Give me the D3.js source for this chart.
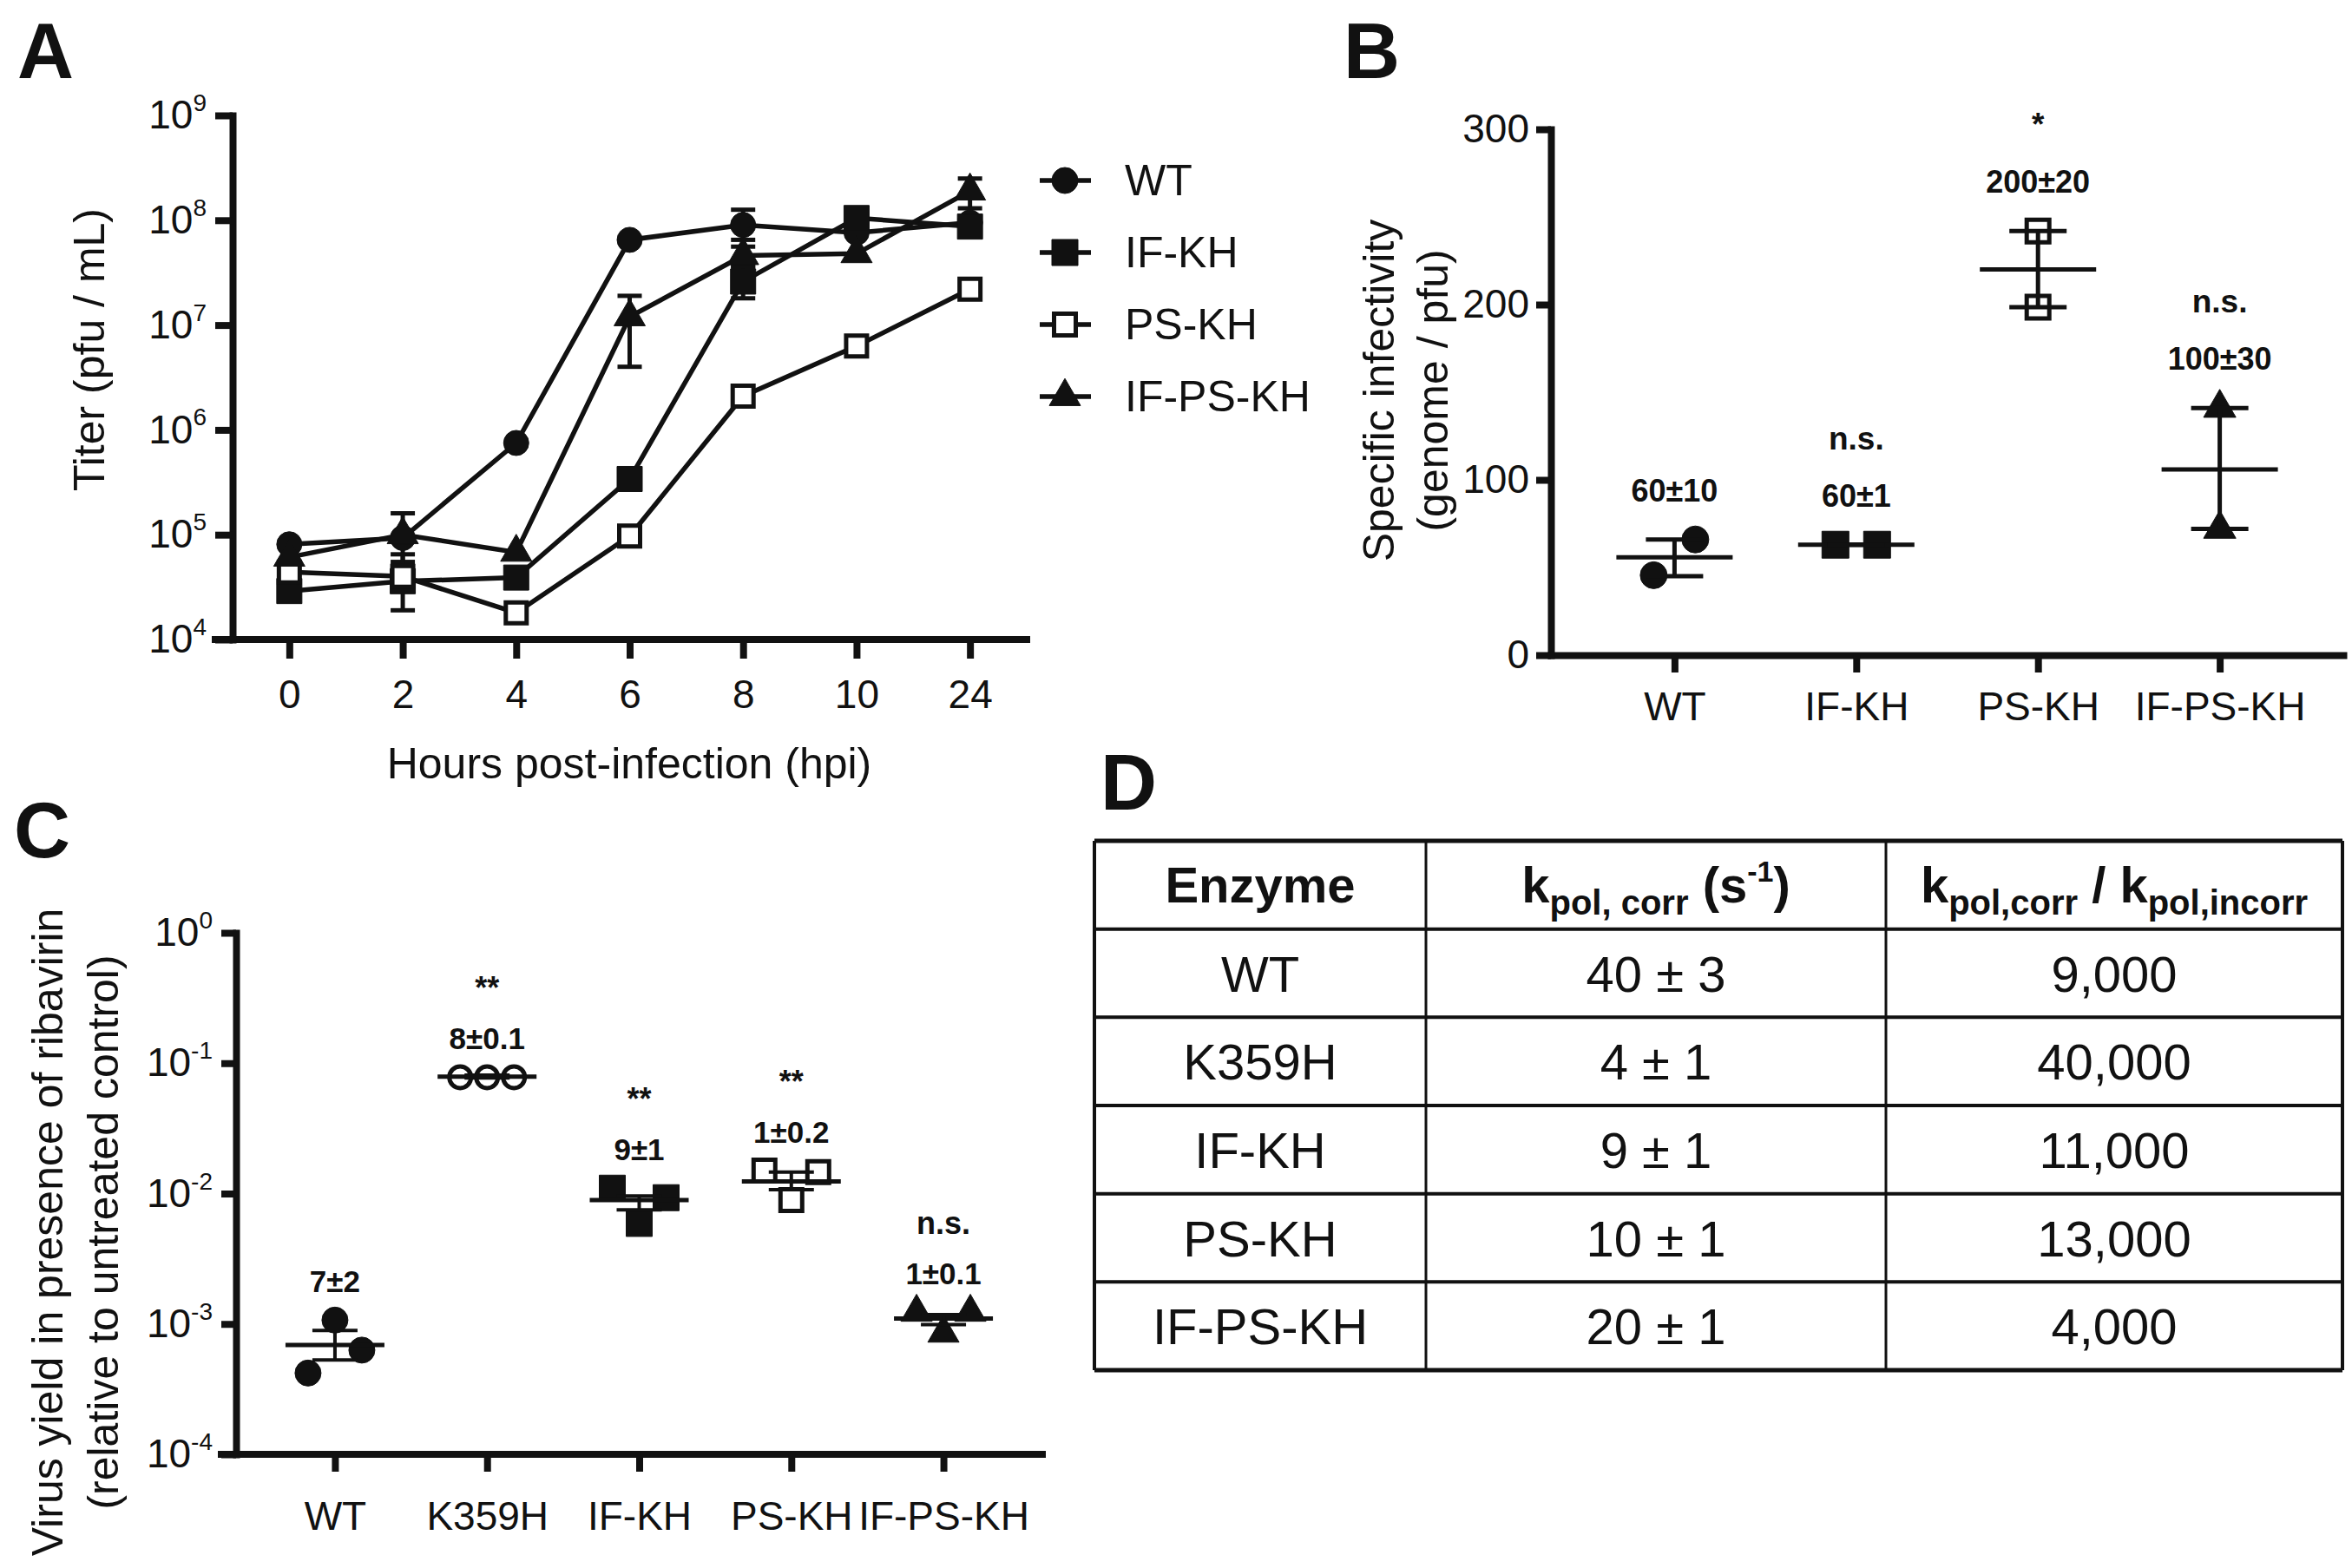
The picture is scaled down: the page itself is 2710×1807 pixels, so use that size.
<!DOCTYPE html>
<html><head><meta charset="utf-8">
<script src="https://cdn.jsdelivr.net/npm/d3@7"></script>
<style>
body{margin:0;background:#fff}
svg{display:block;background:#fff}
</style></head><body>
<svg id="fig" width="2710" height="1807"></svg>
<script>
// ---------- Panel A: growth curves ----------
const hours = ["0","2","4","6","8","10","24"];
const titerWT      = [8.1e4, 9.3e4, 7.5e5, 6.5e7, 9.0e7, 7.6e7, 9.5e7];
const titerIFKH    = [2.9e4, 3.6e4, 3.9e4, 3.4e5, 2.6e7, 1.05e8, 8.7e7];
const titerPSKH    = [4.4e4, 4.0e4, 1.8e4, 9.7e4, 2.1e6, 6.3e6, 2.2e7];
const titerIFPSKH  = [6.1e4, 1.0e5, 6.8e4, 1.2e7, 4.6e7, 4.8e7, 1.9e8];
const errWT     = [null, [5.5e4,1.6e5], null, null, [6.5e7,1.26e8], null, null];
const errIFKH   = [null, [1.9e4,6.5e4], null, null, [1.8e7,3.6e7], null, null];
const errPSKH   = [null, null, null, null, null, null, null];
const errIFPSKH = [null, null, null, [4.0e6,1.9e7], [3.6e7,5.6e7], null, [1.3e8,2.5e8]];
const seriesA = ["WT","IF-KH","PS-KH","IF-PS-KH"];
const titerTicks = [1e4,1e5,1e6,1e7,1e8,1e9];

// ---------- Panel B: specific infectivity ----------
const mutantsB = ["WT","IF-KH","PS-KH","IF-PS-KH"];
const infectivityReps = [[45.6,66],[63,63],[242,198.5],[141,72]];
const infectivityMean = [55.8,63,220,106];
const infectivityErr  = [[45,66],[63,63],[198.5,242],[72,141]];
const infectivityLabels = ["60±10","60±1","200±20","100±30"];
const infectivitySig = ["","n.s.","*","n.s."];
const infectivityTicks = [0,100,200,300];

// ---------- Panel C: ribavirin sensitivity ----------
const mutantsC = ["WT","K359H","IF-KH","PS-KH","IF-PS-KH"];
const yieldReps = [[4.2e-4,1.07e-3,6.3e-4],[0.078,0.078,0.078],[0.011,0.0059,0.0093],[0.015,0.0089,0.0146],[0.00123,0.00085,0.00123]];
const yieldMean = [6.9e-4,0.079,0.0089,0.0124,0.0011];
const yieldErr  = [[5.3e-4,8.9e-4],[0.077,0.081],[0.0075,0.0096],[0.0107,0.0146],[0.00099,0.00118]];
const yieldLabels = ["7±2","8±0.1","9±1","1±0.2","1±0.1"];
const yieldSig = ["","**","**","**","n.s."];
const yieldTicks = [1e-4,1e-3,1e-2,1e-1,1];

// ---------- Panel D: table ----------
const enzymes  = ["WT","K359H","IF-KH","PS-KH","IF-PS-KH"];
const kpolCorr = ["40 ± 3","4 ± 1","9 ± 1","10 ± 1","20 ± 1"];
const fidelity = ["9,000","40,000","11,000","13,000","4,000"];

// ================= drawing =================
const svg = d3.select("#fig");
const BLACK = "#111";
const FONT = "'Liberation Sans', Arial, sans-serif";

const markerStyle = {
  "WT":       {type: d3.symbolCircle,   open: false},
  "K359H":    {type: d3.symbolCircle,   open: true},
  "IF-KH":    {type: d3.symbolSquare,   open: false},
  "PS-KH":    {type: d3.symbolSquare,   open: true},
  "IF-PS-KH": {type: d3.symbolTriangle, open: false}
};
function drawMarker(g, name, x, y, size) {
  const st = markerStyle[name];
  const s = st.open ? size - 5 : size;
  let area;
  if (st.type === d3.symbolCircle) area = Math.PI * (s/2) * (s/2);
  else if (st.type === d3.symbolSquare) area = s * s;
  else area = Math.sqrt(3) / 4 * (s * 1.2) * (s * 1.2);
  g.append("path")
    .attr("d", d3.symbol(st.type, area)())
    .attr("transform", `translate(${x},${y})`)
    .attr("fill", st.open ? "#fff" : BLACK)
    .attr("stroke", BLACK)
    .attr("stroke-width", st.open ? 5 : 1);
}
function styleAxis(g, fs) {
  g.attr("font-family", null).attr("font-size", null);
  g.select(".domain").attr("stroke", BLACK).attr("stroke-width", 8).attr("stroke-linecap", "square");
  g.selectAll(".tick line").attr("stroke", BLACK).attr("stroke-width", 8);
  g.selectAll(".tick text").attr("fill", BLACK).style("font-family", FONT).style("font-size", fs + "px");
}
function powerLabels(g) {
  g.selectAll(".tick text").each(function(d) {
    const t = d3.select(this);
    t.text(null);
    t.append("tspan").text("10");
    t.append("tspan").attr("dy", "-0.72em").style("font-size", "28px").text(String(Math.round(Math.log10(d))));
  });
}
function panelLetter(txt, x, y) {
  svg.append("text").attr("x", x).attr("y", y).text(txt)
    .style("font-family", FONT).style("font-weight", 700).style("font-size", "90px").attr("fill", BLACK);
}
function rotTitle(x, y, lines, gap) {
  const t = svg.append("text").attr("transform", `translate(${x},${y}) rotate(-90)`).attr("text-anchor", "middle")
    .style("font-family", FONT).style("font-size", "50px").attr("fill", BLACK);
  lines.forEach((l, i) => t.append("tspan").attr("x", 0).attr("dy", i === 0 ? 0 : gap).text(l));
}

// ---------------- Panel A ----------------
{
  const xA = d3.scalePoint().domain(hours).range([268, 1183]).padding(0.5);
  const yA = d3.scaleLog().domain([1e4, 1e9]).range([737, 133]);
  const g = svg.append("g");

  const gx = g.append("g").attr("transform", "translate(0,737)")
    .call(d3.axisBottom(xA).tickSize(22).tickSizeOuter(0).tickPadding(24));
  styleAxis(gx, 46);
  gx.select(".domain").attr("d", "M248,0H1183");
  const gy = g.append("g").attr("transform", "translate(268,0)")
    .call(d3.axisLeft(yA).tickValues(titerTicks).tickSize(20).tickSizeOuter(0).tickPadding(10));
  styleAxis(gy, 46);
  gy.selectAll(".tick text").attr("dy", "0.32em");
  powerLabels(gy);

  g.append("text").attr("x", 725).attr("y", 897).attr("text-anchor", "middle")
    .style("font-family", FONT).style("font-size", "50px").attr("fill", BLACK)
    .text("Hours post-infection (hpi)");
  rotTitle(120, 403, ["Titer (pfu / mL)"], 0);

  const data = [
    {name: "WT", v: titerWT, e: errWT},
    {name: "IF-KH", v: titerIFKH, e: errIFKH},
    {name: "PS-KH", v: titerPSKH, e: errPSKH},
    {name: "IF-PS-KH", v: titerIFPSKH, e: errIFPSKH}
  ];
  const line = d3.line().x((d, i) => xA(hours[i])).y(d => yA(d));
  data.forEach(s => {
    s.e.forEach((e, i) => {
      if (!e) return;
      const x = xA(hours[i]);
      g.append("line").attr("x1", x).attr("x2", x).attr("y1", yA(e[0])).attr("y2", yA(e[1]))
        .attr("stroke", BLACK).attr("stroke-width", 5);
      e.forEach(v => g.append("line").attr("x1", x - 14).attr("x2", x + 14).attr("y1", yA(v)).attr("y2", yA(v))
        .attr("stroke", BLACK).attr("stroke-width", 5));
    });
  });
  data.forEach(s => {
    g.append("path").datum(s.v).attr("d", line).attr("fill", "none").attr("stroke", BLACK).attr("stroke-width", 5.5);
  });
  data.forEach(s => {
    s.v.forEach((v, i) => drawMarker(g, s.name, xA(hours[i]), yA(v), s.name === "IF-PS-KH" ? 30 : 29));
  });

  const ly = d3.scalePoint().domain(seriesA).range([208, 457]);
  seriesA.forEach(name => {
    const y = ly(name);
    g.append("line").attr("x1", 1198).attr("x2", 1257).attr("y1", y).attr("y2", y).attr("stroke", BLACK).attr("stroke-width", 5.5);
    drawMarker(g, name, 1227, y, 30);
    g.append("text").attr("x", 1296).attr("y", y + 17).text(name)
      .style("font-family", FONT).style("font-size", "50px").attr("fill", BLACK);
  });
  panelLetter("A", 20, 90);
}

// ---------------- Panel B ----------------
{
  const xB = d3.scalePoint().domain(mutantsB).range([1787, 2700]).padding(0.68);
  const yB = d3.scaleLinear().domain([0, 300]).range([755, 149]);
  const g = svg.append("g");
  const gx = g.append("g").attr("transform", "translate(0,755)")
    .call(d3.axisBottom(xB).tickSize(20).tickSizeOuter(0).tickPadding(22));
  styleAxis(gx, 46);
  const gy = g.append("g").attr("transform", "translate(1787,0)")
    .call(d3.axisLeft(yB).tickValues(infectivityTicks).tickSize(17).tickSizeOuter(0).tickPadding(8));
  styleAxis(gy, 46);
  gy.selectAll(".tick text").attr("dy", "0.32em");

  rotTitle(1606, 450, ["Specific infectivity", "(genome / pfu)"], 62);

  mutantsB.forEach((m, i) => {
    const cx = xB(m);
    const reps = infectivityReps[i];
    const spread = Math.abs(reps[0] - reps[1]) < 25;
    reps.forEach((v, j) => {
      const off = spread ? (j === 0 ? -24 : 24) : 0;
      drawMarker(g, m, cx + off, yB(v), 31);
    });
    g.append("line").attr("x1", cx - 67).attr("x2", cx + 67).attr("y1", yB(infectivityMean[i])).attr("y2", yB(infectivityMean[i]))
      .attr("stroke", BLACK).attr("stroke-width", 5);
    const e = infectivityErr[i];
    g.append("line").attr("x1", cx).attr("x2", cx).attr("y1", yB(e[0])).attr("y2", yB(e[1])).attr("stroke", BLACK).attr("stroke-width", 5);
    e.forEach(v => g.append("line").attr("x1", cx - 33).attr("x2", cx + 33).attr("y1", yB(v)).attr("y2", yB(v)).attr("stroke", BLACK).attr("stroke-width", 5));
    const lb = yB(d3.max(reps)) - 44;
    g.append("text").attr("x", cx).attr("y", lb).attr("text-anchor", "middle").text(infectivityLabels[i])
      .style("font-family", FONT).style("font-weight", 700).style("font-size", "36px").attr("fill", BLACK);
    if (infectivitySig[i]) {
      g.append("text").attr("x", cx).attr("y", lb - 66).attr("text-anchor", "middle").text(infectivitySig[i])
        .style("font-family", FONT).style("font-weight", 700).style("font-size", "37px").attr("fill", BLACK);
    }
  });
  panelLetter("B", 1548, 90);
}

// ---------------- Panel C ----------------
{
  const xC = d3.scalePoint().domain(mutantsC).range([272, 1201]).padding(0.65);
  const yC = d3.scaleLog().domain([1e-4, 1]).range([1676, 1075]);
  const g = svg.append("g");
  const gx = g.append("g").attr("transform", "translate(0,1676)")
    .call(d3.axisBottom(xC).tickSize(20).tickSizeOuter(0).tickPadding(34));
  styleAxis(gx, 46);
  gx.select(".domain").attr("d", "M255,0H1201");
  const gy = g.append("g").attr("transform", "translate(272,0)")
    .call(d3.axisLeft(yC).tickValues(yieldTicks).tickSize(17).tickSizeOuter(0).tickPadding(10));
  styleAxis(gy, 46);
  gy.selectAll(".tick text").attr("dy", "0.32em");
  powerLabels(gy);

  rotTitle(72, 1420, ["Virus yield in presence of ribavirin", "(relative to untreated control)"], 64);

  mutantsC.forEach((m, i) => {
    const cx = xC(m);
    const reps = yieldReps[i];
    reps.forEach((v, j) => drawMarker(g, m, cx + (j - 1) * 31, yC(v), 30));
    g.append("line").attr("x1", cx - 57).attr("x2", cx + 57).attr("y1", yC(yieldMean[i])).attr("y2", yC(yieldMean[i]))
      .attr("stroke", BLACK).attr("stroke-width", 5);
    const e = yieldErr[i];
    g.append("line").attr("x1", cx).attr("x2", cx).attr("y1", yC(e[0])).attr("y2", yC(e[1])).attr("stroke", BLACK).attr("stroke-width", 4);
    e.forEach(v => g.append("line").attr("x1", cx - 26).attr("x2", cx + 26).attr("y1", yC(v)).attr("y2", yC(v)).attr("stroke", BLACK).attr("stroke-width", 4));
    const lb = yC(d3.max(reps)) - 32;
    g.append("text").attr("x", cx).attr("y", lb).attr("text-anchor", "middle").text(yieldLabels[i])
      .style("font-family", FONT).style("font-weight", 700).style("font-size", "35px").attr("fill", BLACK);
    if (yieldSig[i]) {
      g.append("text").attr("x", cx).attr("y", lb - 58).attr("text-anchor", "middle").text(yieldSig[i])
        .style("font-family", FONT).style("font-weight", 700).style("font-size", "36px").attr("fill", BLACK);
    }
  });
  panelLetter("C", 16, 988);
}

// ---------------- Panel D ----------------
{
  const g = svg.append("g");
  const left = 1261, right = 2699, top = 969, bottom = 1579;
  const colEdges = [left, 1643, 2173, right];
  const rows = ["header"].concat(enzymes);
  const yRow = d3.scaleBand().domain(rows).range([top, bottom]);
  rows.concat(["end"]).forEach((r, i) => {
    const y = i < rows.length ? yRow(r) : bottom;
    g.append("line").attr("x1", left).attr("x2", right).attr("y1", y).attr("y2", y)
      .attr("stroke", BLACK).attr("stroke-width", (i === 0 || i === rows.length) ? 5 : 4);
  });
  colEdges.forEach((x, i) => {
    g.append("line").attr("x1", x).attr("x2", x).attr("y1", top).attr("y2", bottom)
      .attr("stroke", BLACK).attr("stroke-width", (i === 0 || i === 3) ? 4 : 3);
  });
  const cxs = [0, 1, 2].map(i => (colEdges[i] + colEdges[i + 1]) / 2);
  const hy = yRow("header") + yRow.bandwidth() / 2 + 20;
  const txt = (x, y) => g.append("text").attr("x", x).attr("y", y).attr("text-anchor", "middle")
    .style("font-family", FONT).style("font-size", "58px").attr("fill", BLACK);
  txt(cxs[0], hy).style("font-weight", 700).text("Enzyme");
  const h2 = txt(cxs[1], hy).style("font-weight", 700);
  h2.append("tspan").text("k");
  h2.append("tspan").attr("dy", 14).style("font-size", "40px").text("pol, corr");
  h2.append("tspan").attr("dy", -14).text(" (s");
  h2.append("tspan").attr("dy", -24).style("font-size", "34px").text("-1");
  h2.append("tspan").attr("dy", 24).text(")");
  const h3 = txt(cxs[2], hy).style("font-weight", 700);
  h3.append("tspan").text("k");
  h3.append("tspan").attr("dy", 14).style("font-size", "40px").text("pol,corr");
  h3.append("tspan").attr("dy", -14).text(" / k");
  h3.append("tspan").attr("dy", 14).style("font-size", "40px").text("pol,incorr");
  enzymes.forEach((en, i) => {
    const y = yRow(en) + yRow.bandwidth() / 2 + 21;
    txt(cxs[0], y).text(en);
    txt(cxs[1], y).text(kpolCorr[i]);
    txt(cxs[2], y).text(fidelity[i]);
  });
  panelLetter("D", 1268, 933);
}
</script>
</body></html>
